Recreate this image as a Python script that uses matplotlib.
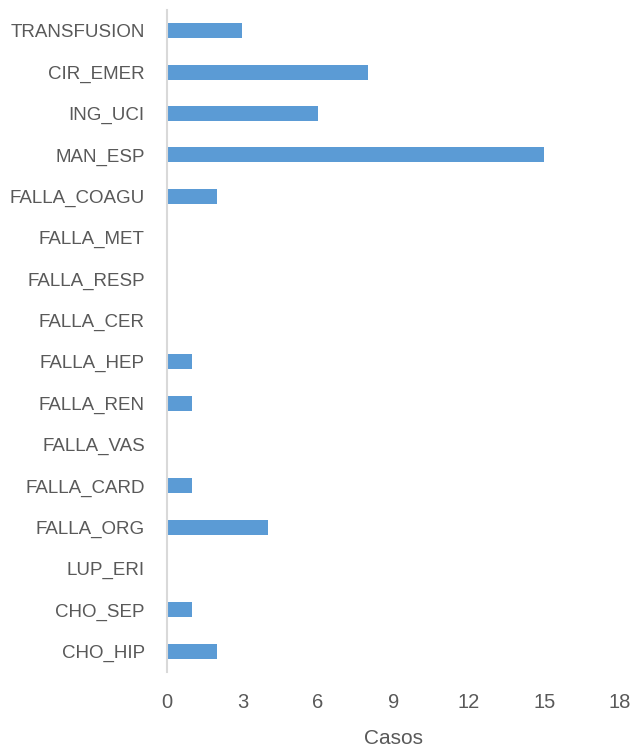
import matplotlib.pyplot as plt

plt.rcParams['font.family'] = ['Liberation Sans', 'DejaVu Sans']

categorias = ['TRANSFUSION', 'CIR_EMER', 'ING_UCI', 'MAN_ESP', 'FALLA_COAGU',
              'FALLA_MET', 'FALLA_RESP', 'FALLA_CER', 'FALLA_HEP', 'FALLA_REN',
              'FALLA_VAS', 'FALLA_CARD', 'FALLA_ORG', 'LUP_ERI', 'CHO_SEP', 'CHO_HIP']
casos = [3, 8, 6, 15, 2, 0, 0, 0, 1, 1, 0, 1, 4, 0, 1, 2]
ticks_x = [0, 3, 6, 9, 12, 15, 18]

gris = '#595959'

fig = plt.figure(figsize=(6.35, 7.49), dpi=100)
ax = fig.add_axes([0.263, 0.1028, 0.713, 0.8838])

y = list(range(len(categorias)))[::-1]
ax.barh(y, casos, height=0.36, color='#5B9BD5')

ax.set_xlim(0, 18)
ax.set_ylim(-0.5, len(categorias) - 0.5)
ax.set_xticks(ticks_x)
ax.set_yticks(y)
ax.set_yticklabels(categorias)

for s in ['top', 'right', 'bottom']:
    ax.spines[s].set_visible(False)
ax.spines['left'].set_color('#D9D9D9')
ax.spines['left'].set_linewidth(1.5)

ax.tick_params(axis='both', length=0, labelsize=13.5, colors=gris)
ax.tick_params(axis='y', pad=16)
ax.tick_params(axis='x', pad=15)
ax.tick_params(axis='x', labelsize=14.5)
ax.set_xlabel('Casos', fontsize=15, color=gris, labelpad=12)

fig.savefig('out.png', dpi=100)
